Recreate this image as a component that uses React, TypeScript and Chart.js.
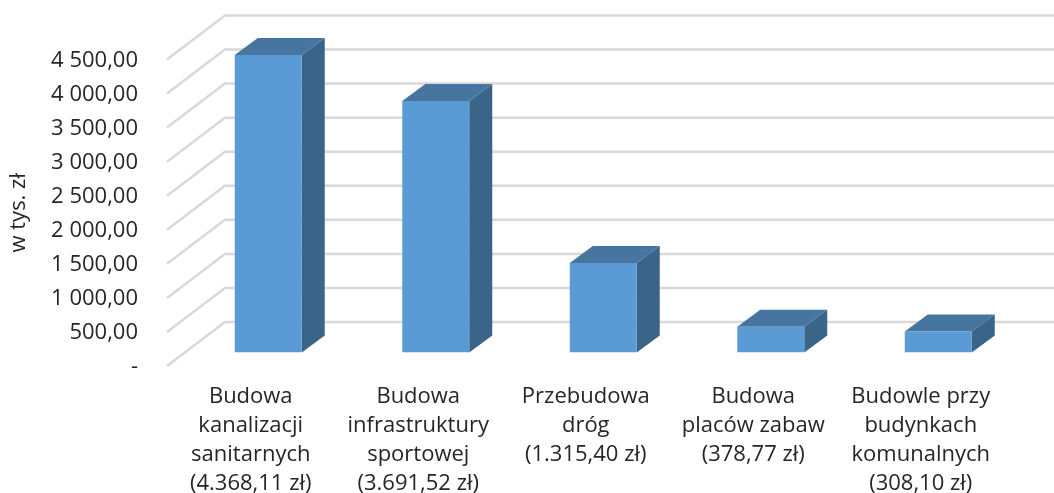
import React, { useEffect, useRef } from "react";
import { Chart, registerables } from "chart.js";

Chart.register(...registerables);

const categories = [
  ["Budowa", "kanalizacji", "sanitarnych", "(4.368,11 zł)"],
  ["Budowa", "infrastruktury", "sportowej", "(3.691,52 zł)"],
  ["Przebudowa", "dróg", "(1.315,40 zł)"],
  ["Budowa", "placów zabaw", "(378,77 zł)"],
  ["Budowle przy", "budynkach", "komunalnych", "(308,10 zł)"],
];
const seriesValues = [4368.11, 3691.52, 1315.4, 378.77, 308.1];
const tickLabels = ["-", "500,00", "1 000,00", "1 500,00", "2 000,00", "2 500,00", "3 000,00", "3 500,00", "4 000,00", "4 500,00"];

const FONT = "'Open Sans', sans-serif";
const GRID = "#D9D9D9";
const FRONT = "#5B9BD5";
const TOP = "#4675A0";
const SIDE = "#3A6589";
const DEPTH_X = 58, DEPTH_Y = 44, GRID_RIGHT = 1054;
const BAR_DX = 17.5, BAR_DY = 13.5, BAR_DEPTH_X = 23, BAR_DEPTH_Y = 17;

const threeD = {
  id: "threeD",
  beforeDatasetsDraw(chart: any) {
    const { ctx, scales } = chart;
    const y = scales.y;
    const left = chart.chartArea.left;
    ctx.save();
    ctx.strokeStyle = GRID;
    ctx.lineWidth = 2.5;
    y.ticks.forEach((t: any) => {
      const p = y.getPixelForValue(t.value);
      ctx.beginPath();
      ctx.moveTo(left, p);
      ctx.lineTo(left + DEPTH_X, p - DEPTH_Y);
      ctx.lineTo(GRID_RIGHT, p - DEPTH_Y);
      ctx.stroke();
    });
    ctx.restore();
    ctx.save();
    ctx.translate(BAR_DX, -BAR_DY);
    chart.getDatasetMeta(0).data.forEach((b: any) => {
      const hw = b.width / 2;
      const l = b.x - hw, r = b.x + hw, t = b.y, bt = b.base;
      ctx.fillStyle = SIDE;
      ctx.beginPath();
      ctx.moveTo(r, t);
      ctx.lineTo(r + BAR_DEPTH_X, t - BAR_DEPTH_Y);
      ctx.lineTo(r + BAR_DEPTH_X, bt - BAR_DEPTH_Y);
      ctx.lineTo(r, bt);
      ctx.closePath();
      ctx.fill();
      ctx.fillStyle = TOP;
      ctx.beginPath();
      ctx.moveTo(l, t);
      ctx.lineTo(l + BAR_DEPTH_X, t - BAR_DEPTH_Y);
      ctx.lineTo(r + BAR_DEPTH_X, t - BAR_DEPTH_Y);
      ctx.lineTo(r, t);
      ctx.closePath();
      ctx.fill();
    });
    ctx.restore();
    ctx.save();
    ctx.translate(BAR_DX, -BAR_DY);
  },
  afterDatasetsDraw(chart: any) {
    chart.ctx.restore();
  },
};

export default function App() {
  const ref = useRef<HTMLCanvasElement>(null);
  useEffect(() => {
    document.body.style.margin = "0";
    const chart = new Chart(ref.current!, {
      type: "bar",
      data: {
        labels: categories,
        datasets: [{
          data: seriesValues,
          backgroundColor: FRONT,
          categoryPercentage: 1,
          barPercentage: 0.4,
        }],
      },
      options: {
        responsive: false,
        animation: false,
        layout: { padding: { top: 59.5, right: 49.5, left: 0, bottom: 0 } },
        plugins: { legend: { display: false }, tooltip: { enabled: false } },
        scales: {
          x: {
            grid: { display: false },
            border: { display: false },
            afterFit: (s: any) => { s.height = 127; },
            ticks: {
              color: "#262626",
              maxRotation: 0,
              autoSkip: false,
              padding: 8,
              font: { family: FONT, size: 22, lineHeight: 29 / 22 },
            },
          },
          y: {
            min: 0,
            max: 4500,
            grid: { display: false },
            border: { display: false },
            afterFit: (s: any) => { s.width = 167; },
            afterBuildTicks: (s: any) => {
              s.ticks = tickLabels.map((_, i) => ({ value: i * 500 }));
            },
            title: {
              display: true,
              text: "w tys. zł",
              color: "#262626",
              font: { family: FONT, size: 22 },
              padding: { top: 6, bottom: 0 },
            },
            ticks: {
              color: "#262626",
              padding: 21,
              labelOffset: 1,
              font: { family: FONT, size: 22 },
              callback: (_v: any, i: number) => tickLabels[i],
            },
          },
        },
      },
      plugins: [threeD],
    });
    return () => chart.destroy();
  }, []);
  return <canvas ref={ref} width={1054} height={493} style={{ display: "block" }} />;
}
